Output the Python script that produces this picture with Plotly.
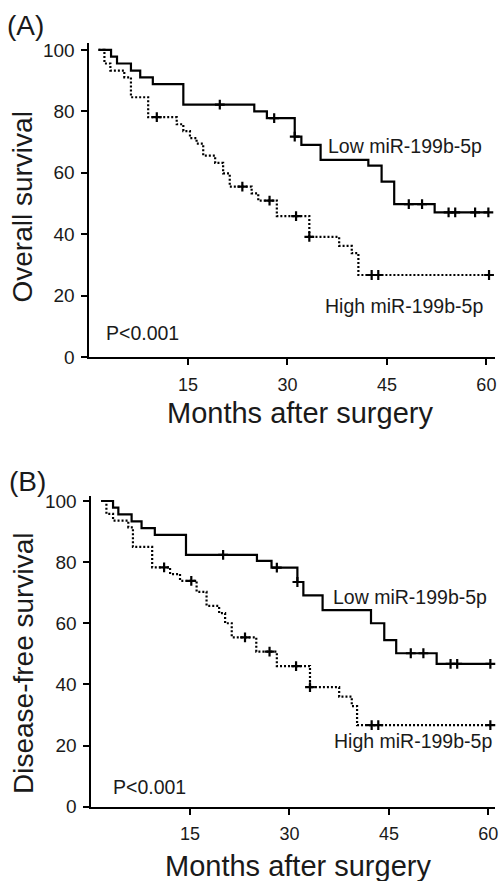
import plotly.graph_objects as go

W, H = 501, 881

# ---------------- data ----------------
# Panel A: Overall survival
a_low_t = [1.5, 3.4, 4.3, 6.4, 7.8, 9.7, 14.3, 25.0, 26.9, 31.1, 32.1, 35.0, 42.2, 44.2, 46.1, 52.2, 60.3]
a_low_s = [100, 97.8, 95.6, 93.3, 91.1, 88.9, 82.2, 80.0, 77.8, 71.8, 69.1, 64.2, 62.3, 57.1, 49.8, 47.1, 47.1]
a_low_ct = [19.8, 28.0, 31.1, 48.3, 50.3, 54.3, 55.3, 58.3, 60.3]
a_low_cs = [82.2, 77.8, 71.8, 49.8, 49.8, 47.1, 47.1, 47.1, 47.1]

a_high_t = [1.5, 2.4, 3.3, 5.4, 6.4, 9.0, 13.3, 14.3, 15.3, 16.3, 17.3, 19.1, 20.3, 21.3, 24.6, 25.6, 28.4, 33.3, 37.8, 39.7, 40.7, 60.4]
a_high_s = [100, 95.6, 93.3, 91.1, 84.6, 78.1, 75.8, 73.6, 71.3, 69.5, 65.6, 63.2, 59.8, 55.5, 53.3, 50.9, 45.9, 39.1, 36.2, 33.8, 26.7, 26.7]
a_high_ct = [10.3, 23.2, 27.3, 31.3, 33.3, 42.7, 43.7, 60.4]
a_high_cs = [78.1, 55.5, 50.9, 45.9, 39.1, 26.7, 26.7, 26.7]

# Panel B: Disease-free survival
b_low_t = [1.6, 3.4, 4.2, 6.2, 7.7, 9.7, 14.4, 25.1, 27.3, 31.2, 32.1, 35.0, 42.3, 44.3, 46.1, 52.2, 60.3]
b_low_s = [100, 97.8, 95.6, 93.3, 91.1, 88.9, 82.4, 80.4, 78.2, 73.5, 69.1, 64.3, 60.0, 54.5, 50.2, 46.7, 46.7]
b_low_ct = [20.0, 28.1, 31.2, 48.3, 50.2, 54.3, 55.3, 60.3]
b_low_cs = [82.4, 78.2, 73.5, 50.2, 50.2, 46.7, 46.7, 46.7]

b_high_t = [1.6, 2.4, 3.4, 5.7, 6.4, 9.3, 12.0, 13.5, 16.0, 17.5, 19.4, 20.3, 21.3, 25.0, 28.1, 33.1, 37.5, 39.4, 40.2, 60.3]
b_high_s = [100, 95.8, 93.6, 91.4, 85.0, 78.3, 76.1, 73.9, 70.3, 65.7, 63.3, 60.0, 55.4, 50.7, 46.0, 39.1, 36.0, 32.9, 26.7, 26.7]
b_high_ct = [11.1, 15.2, 23.3, 27.0, 31.0, 33.1, 42.4, 43.4, 60.3]
b_high_cs = [78.3, 73.9, 55.4, 50.7, 46.0, 39.1, 26.7, 26.7, 26.7]

x_ticks = [15, 30, 45, 60]
y_ticks = [0, 20, 40, 60, 80, 100]

FONT = "Liberation Sans, Arial, sans-serif"
TXT = "#1a1a1a"

fig = go.Figure()

def add_group(t, s, ct, cs, xa, ya, dash):
    fig.add_trace(go.Scatter(x=t, y=s, mode="lines", line_shape="hv",
                             line=dict(color="black", width=2.2, dash=dash),
                             xaxis=xa, yaxis=ya, showlegend=False, hoverinfo="skip",
                             cliponaxis=False))
    fig.add_trace(go.Scatter(x=ct, y=cs, mode="markers",
                             marker=dict(symbol="cross-thin", size=7, color="black",
                                         line=dict(color="black", width=2.2)),
                             xaxis=xa, yaxis=ya, showlegend=False, hoverinfo="skip",
                             cliponaxis=False))

add_group(a_low_t, a_low_s, a_low_ct, a_low_cs, "x", "y", "solid")
add_group(a_high_t, a_high_s, a_high_ct, a_high_cs, "x", "y", "2px,2px")
add_group(b_low_t, b_low_s, b_low_ct, b_low_cs, "x2", "y2", "solid")
add_group(b_high_t, b_high_s, b_high_ct, b_high_cs, "x2", "y2", "2px,2px")

def px_x(p):
    return p / W

def px_y(p):
    return 1 - p / H

xaxis_common = dict(showline=True, linecolor="black", linewidth=2, ticks="outside",
                    ticklen=6, tickwidth=2, tickcolor="black", tickvals=x_ticks,
                    showgrid=False, zeroline=False, automargin=False,
                    tickfont=dict(family=FONT, size=18, color=TXT), ticklabelstandoff=4)
yaxis_common = dict(showline=True, linecolor="black", linewidth=2, ticks="outside",
                    ticklen=6, tickwidth=2, tickcolor="black", tickvals=y_ticks,
                    showgrid=False, zeroline=False, automargin=False,
                    tickfont=dict(family=FONT, size=19, color=TXT), ticklabelstandoff=2)

fig.update_layout(
    width=W, height=H, margin=dict(l=0, r=0, t=0, b=0, autoexpand=False),
    paper_bgcolor="white", plot_bgcolor="white",
    xaxis=dict(xaxis_common, domain=[px_x(88.5), px_x(495)], range=[0, 61.3], anchor="y"),
    yaxis=dict(yaxis_common, domain=[px_y(357), px_y(42.6)], range=[0, 102.4], anchor="x"),
    xaxis2=dict(xaxis_common, domain=[px_x(90.5), px_x(495)], range=[0, 61.0], anchor="y2"),
    yaxis2=dict(yaxis_common, domain=[px_y(806.7), px_y(496.4)], range=[0, 101.5], anchor="x2"),
)

def ann(text, x, y, size, xanchor="center", angle=0):
    fig.add_annotation(text=text, x=px_x(x), y=px_y(y), xref="paper", yref="paper",
                       showarrow=False, xanchor=xanchor, yanchor="middle",
                       textangle=angle, font=dict(family=FONT, size=size, color=TXT))

ann("(A)", 25, 25, 28)
ann("(B)", 27, 481, 28)
ann("Low miR-199b-5p", 405, 146, 19.5)
ann("High miR-199b-5p", 404, 306, 19.5)
ann("P&lt;0.001", 104, 333, 19.5, xanchor="left")
ann("Low miR-199b-5p", 410, 597, 19.5)
ann("High miR-199b-5p", 412.5, 741, 19.5)
ann("P&lt;0.001", 110.7, 787, 19.5, xanchor="left")
ann("Overall survival", 22, 207.5, 28, angle=-90)
ann("Disease-free survival", 23, 664, 28, angle=-90)
ann("Months after surgery", 299.5, 413, 29)
ann("Months after surgery", 297.5, 866, 29)

fig.write_html("out.html",
               config={"displayModeBar": False, "staticPlot": True},
               post_script="document.body.style.margin='0px';document.body.style.padding='0px';document.body.style.overflow='hidden';")
